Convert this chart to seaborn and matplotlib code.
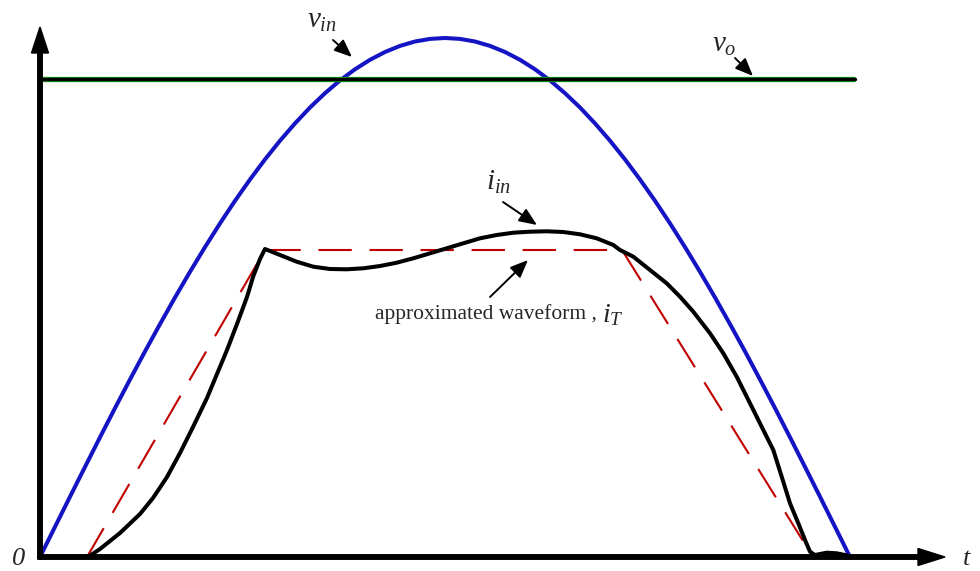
import matplotlib
matplotlib.use("Agg")
import matplotlib.pyplot as plt
import pandas as pd
import seaborn as sns

# --- waveform samples (time in display units, amplitude in display units) ---
t_vin = list(range(0, 811, 15))
v_in = [0, 30.2, 60.3, 90.1, 119.7, 148.9, 177.5, 205.6, 232.9, 259.5,
        285.2, 309.9, 333.6, 356.2, 377.5, 397.6, 416.3, 433.6, 449.5, 463.8,
        476.6, 487.7, 497.2, 505.0, 511.1, 515.5, 518.1, 519.0,
        518.1, 515.5, 511.1, 505.0, 497.2, 487.7, 476.6, 463.8, 449.5, 433.6,
        416.3, 397.6, 377.5, 356.2, 333.6, 309.9, 285.2, 259.5, 232.9, 205.6,
        177.5, 148.9, 119.7, 90.1, 60.3, 30.2, 0]

t_vo = [0, 815]
v_o = [478, 478]

t_iin = [0, 48, 60, 80, 100, 113, 127, 140, 153, 167, 177, 187, 197, 207,
         213, 220, 225,
         240, 256.7, 273.3, 290, 306.7, 323.3, 340, 356.7, 373.3, 390, 406.7,
         423.3, 440, 456.7, 473.3, 490, 506.7, 523.3, 540, 556.7, 573.3,
         580, 593.3, 610, 626.7, 640, 653.3, 670, 683.3, 696.7, 710, 723.3,
         733.3, 741.7, 750, 758.3, 765, 770, 775, 786.7, 796.7, 810]
i_in = [0, 0, 8, 24, 43, 59, 80, 104, 130, 159, 183, 207, 233, 260,
        280, 298, 308,
        302, 295.3, 290.3, 288, 287.7, 288.7, 291, 294.3, 298.7, 303.7, 308.7,
        313.7, 318.7, 322, 324.3, 325.3, 325.7, 325, 322.7, 318.7, 312,
        307, 300.3, 287, 273.7, 260.3, 245.3, 223.7, 203.7, 180.3, 153.7, 127,
        107, 80.3, 53.7, 33.7, 17, 5.3, 2, 4.3, 3.7, 1]

t_iT = [47, 225, 582, 773]
i_T = [0, 307, 307, 0]

df_vin = pd.DataFrame({"t": t_vin, "v": v_in})
df_vo = pd.DataFrame({"t": t_vo, "v": v_o})
df_iin = pd.DataFrame({"t": t_iin, "i": i_in})
df_iT = pd.DataFrame({"t": t_iT, "i": i_T})

sns.set_style("white")
plt.rcParams["font.family"] = ["Liberation Serif", "DejaVu Serif"]
plt.rcParams["mathtext.fontset"] = "custom"
plt.rcParams["mathtext.it"] = "Liberation Serif:italic"
plt.rcParams["mathtext.rm"] = "Liberation Serif"

fig = plt.figure(figsize=(9.8, 5.71), dpi=100)
ax = fig.add_axes([0, 0, 1, 1])
ax.set_xlim(-40, 940)
ax.set_ylim(-14, 557)
ax.axis("off")

# curves
sns.lineplot(data=df_vin, x="t", y="v", ax=ax, color="#1414c4", lw=2.9,
             estimator=None, sort=False, solid_capstyle="butt",
             solid_joinstyle="round")
sns.lineplot(data=df_iT, x="t", y="i", ax=ax, color="#c00000", lw=1.5,
             estimator=None, sort=False)
ax.lines[-1].set_dashes((16, 8.5))
sns.lineplot(data=df_iin, x="t", y="i", ax=ax, color="black", lw=2.9,
             estimator=None, sort=False, solid_joinstyle="round")
sns.lineplot(data=df_vo, x="t", y="v", ax=ax, color="#10a010", lw=3.8,
             estimator=None, sort=False, solid_capstyle="butt")
sns.lineplot(data=df_vo, x="t", y="v", ax=ax, color="black", lw=2.5,
             estimator=None, sort=False)

# axes with arrow heads
ax.arrow(0, -2, 0, 532, width=4.5, head_width=17, head_length=26,
         length_includes_head=True, fc="black", ec="black", zorder=5)
ax.arrow(-2, 0, 907, 0, width=4.5, head_width=17, head_length=27,
         length_includes_head=True, fc="black", ec="black", zorder=5)

ax.text(-21, -13, "0", fontsize=19, style="italic", ha="center", va="bottom")
ax.text(927, -13, "t", fontsize=19, style="italic", ha="center", va="bottom")

# labels with pointer arrows
arrow_kw = dict(arrowstyle="-|>,head_length=0.6,head_width=0.25",
                lw=1.4, color="black", shrinkA=0, shrinkB=0,
                mutation_scale=18)
ax.text(267, 529, r"$v_{in}$", fontsize=21, ha="left", va="baseline")
ax.annotate("", xy=(312, 500), xytext=(293, 517), arrowprops=arrow_kw)

ax.text(672, 505, r"$v_{o}$", fontsize=21, ha="left", va="baseline")
ax.annotate("", xy=(713, 481), xytext=(695, 499), arrowprops=arrow_kw)

ax.text(446, 367, r"$i_{in}$", fontsize=21, ha="left", va="baseline")
ax.annotate("", xy=(497, 332), xytext=(463, 355), arrowprops=arrow_kw)

ax.text(335, 238, "approximated waveform ,", fontsize=15.5,
        ha="left", va="baseline")
ax.text(562, 235, r"$i_{T}$", fontsize=20, ha="left", va="baseline")
ax.annotate("", xy=(488, 297), xytext=(450, 260), arrowprops=arrow_kw)

fig.savefig("out.png", dpi=100, facecolor="white")
